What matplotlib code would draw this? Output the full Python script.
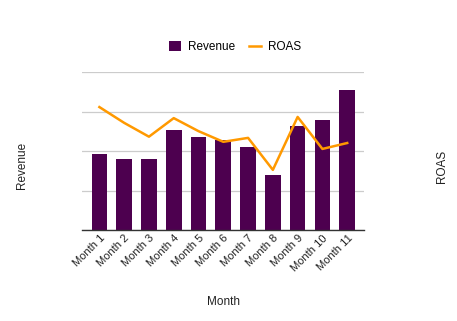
import matplotlib.pyplot as plt

plt.rcParams['font.family'] = ['Liberation Sans', 'DejaVu Sans']

months = ['Month %d' % i for i in range(1, 12)]
revenue = [1.94, 1.81, 1.81, 2.55, 2.36, 2.28, 2.10, 1.40, 2.65, 2.78, 3.54]
roas = [3.12, 2.72, 2.37, 2.84, 2.51, 2.24, 2.34, 1.53, 2.87, 2.06, 2.21]

purple = '#4d004f'
orange = '#ff9900'

fig = plt.figure(figsize=(4.57, 3.21), dpi=100)
ax = fig.add_axes([82.3 / 457, 1 - 230.3 / 321, 282 / 457, 158 / 321])
x = range(len(months))
bars = ax.bar(x, revenue, width=0.63, color=purple, zorder=2, label='Revenue')
ax.set_ylim(0, 4)
ax.set_xlim(-0.69, len(months) - 1 + 0.69)
ax.set_yticks([0, 1, 2, 3, 4])
ax.set_yticklabels([])
ax.tick_params(axis='y', length=0)
ax.tick_params(axis='x', length=0, pad=2)
ax.grid(axis='y', color='#cccccc', lw=0.9, zorder=0)
for s in ['top', 'right', 'left']:
    ax.spines[s].set_visible(False)
ax.spines['bottom'].set_color('#333333')
ax.spines['bottom'].set_linewidth(1.0)
ax.spines['bottom'].set_zorder(3)
ax.set_xticks(list(x))
ax.set_xticklabels(months, rotation=45, ha='right', rotation_mode='anchor',
                   fontsize=8, color='#222222')

ax2 = ax.twinx()
line, = ax2.plot(list(x), roas, color=orange, lw=1.8, label='ROAS')
ax2.set_ylim(0, 4)
ax2.set_yticks([])
for s in ax2.spines.values():
    s.set_visible(False)

fig.text(22 / 457, 1 - 165 / 321, 'Revenue', rotation=90, ha='center', va='center',
         fontsize=8.5, color='#222222')
fig.text(442 / 457, 1 - 166 / 321, 'ROAS', rotation=90, ha='center', va='center',
         fontsize=8.5, color='#222222')
fig.text(223 / 457, 1 - 302 / 321, 'Month', ha='center', va='center',
         fontsize=8.5, color='#222222')

fig.legend([bars, line], ['Revenue', 'ROAS'], loc='center',
           bbox_to_anchor=(235 / 457, 1 - 47 / 321), ncol=2, frameon=False,
           fontsize=8.5, handlelength=1.0, handleheight=1.0, columnspacing=1.2,
           handletextpad=0.6)

fig.savefig('out.png', dpi=100)
